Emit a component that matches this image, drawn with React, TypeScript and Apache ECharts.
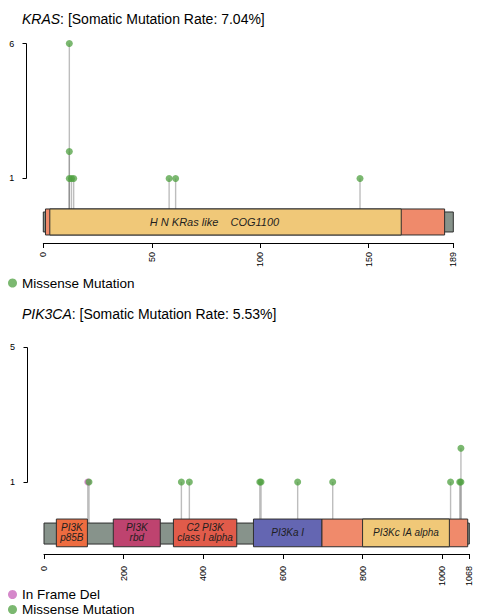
import { useEffect, useRef } from "react";
import * as echarts from "echarts";

// ---- KRAS ----
const KRAS_GENE = "KRAS";
const KRAS_RATE = "7.04%";
const KRAS_LENGTH = 189;
const KRAS_DOMAIN_NAMES = ["", "H N KRas like\u00A0\u00A0\u00A0 COG1100"];
const KRAS_DOMAIN_START = [1, 3];
const KRAS_DOMAIN_END = [185, 165];
const KRAS_MISSENSE_POS = [12, 12, 12, 13, 14, 58, 61, 146];
const KRAS_MISSENSE_COUNT = [6, 2, 1, 1, 1, 1, 1, 1];
const KRAS_X_TICKS = [0, 50, 100, 150, 189];
const KRAS_Y_TICKS = [1, 6];

// ---- PIK3CA ----
const PIK3CA_GENE = "PIK3CA";
const PIK3CA_RATE = "5.53%";
const PIK3CA_LENGTH = 1068;
const PIK3CA_DOMAIN_NAMES = [
  "PI3K\np85B",
  "PI3K\nrbd",
  "C2 PI3K\nclass I alpha",
  "PI3Ka I",
  "",
  "PI3Kc IA alpha",
];
const PIK3CA_DOMAIN_START = [31, 174, 325, 526, 698, 800];
const PIK3CA_DOMAIN_END = [109, 292, 484, 698, 1064, 1018];
const PIK3CA_INFRAME_POS = [110];
const PIK3CA_INFRAME_COUNT = [1];
const PIK3CA_MISSENSE_POS = [113, 345, 365, 542, 545, 637, 725, 1021, 1044, 1047, 1047];
const PIK3CA_MISSENSE_COUNT = [1, 1, 1, 1, 1, 1, 1, 1, 1, 1, 2];
const PIK3CA_X_TICKS = [0, 200, 400, 600, 800, 1000, 1068];
const PIK3CA_Y_TICKS = [1, 5];

// ---- styling ----
const FONT = "'Liberation Sans', Arial, Helvetica, sans-serif";
const BACKBONE = "#87938B";
const EDGE = "#2e2e2e";
const KRAS_FILLS = ["#EF8A6B", "#F0C878"];
const PIK3CA_FILLS = ["#EE6C40", "#BE436F", "#E15B4A", "#6466B2", "#F08A6B", "#F0C878"];
const MISSENSE_COLOR = "#4FA040";
const INFRAME_COLOR = "#C760B8";
const STEM_COLOR = "rgba(135,135,135,0.55)";

type Layout = {
  left: number;
  width: number;
  top: number;
  height: number;
  yMin: number;
  bb: [number, number];
  dom: [number, number];
  tickLabelMargin: number;
  domainFont: number;
  labelShift: number[];
};

const KRAS_LAYOUT: Layout = {
  left: 43.3,
  width: 410,
  top: 43.5,
  height: 199.5,
  yMin: -1.39,
  bb: [6.5, 26.5],
  dom: [3.5, 29.5],
  tickLabelMargin: 9,
  domainFont: 11,
  labelShift: [0, -11],
};

const PIK3CA_LAYOUT: Layout = {
  left: 44,
  width: 425.3,
  top: 347,
  height: 207,
  yMin: -1.133,
  bb: [7.3, 28.3],
  dom: [3.3, 31],
  tickLabelMargin: 12,
  domainFont: 10,
  labelShift: [0, 0, 0, 0, 0, 0],
};

// distance of the count axis from the start of the protein, and its tick length
const SPINE_GAP = 17;
const SPINE_TICK = 4;

function zip(a: number[], b: number[]) {
  return a.map((v, i) => [v, b[i]]);
}

function domainSeries(
  idx: number,
  length: number,
  starts: number[],
  ends: number[],
  names: string[],
  fills: string[],
  L: Layout
) {
  const data = [[0, length, 0], ...starts.map((s, j) => [s, ends[j], 0])];
  return {
    type: "custom",
    xAxisIndex: idx,
    yAxisIndex: idx,
    z: 3,
    silent: true,
    encode: { x: [0, 1], y: 2 },
    data,
    renderItem: (params: any, api: any) => {
      const i = params.dataIndex;
      const a = api.coord([api.value(0), 0]);
      const b = api.coord([api.value(1), 0]);
      const base = a[1];
      if (i === 0) {
        return {
          type: "rect",
          shape: { x: a[0], y: base + L.bb[0], width: b[0] - a[0], height: L.bb[1] - L.bb[0] },
          style: { fill: BACKBONE, stroke: EDGE, lineWidth: 1 },
        };
      }
      const j = i - 1;
      const y0 = base + L.dom[0];
      const h = L.dom[1] - L.dom[0];
      const children: any[] = [
        {
          type: "rect",
          shape: { x: a[0], y: y0, width: b[0] - a[0], height: h },
          style: { fill: fills[j], stroke: EDGE, lineWidth: 1 },
        },
      ];
      if (names[j]) {
        children.push({
          type: "text",
          style: {
            text: names[j],
            x: (a[0] + b[0]) / 2 + L.labelShift[j],
            y: y0 + h / 2,
            align: "center",
            verticalAlign: "middle",
            fontSize: L.domainFont,
            fontStyle: "italic",
            fontFamily: FONT,
            lineHeight: L.domainFont,
            fill: "#1e1e1e",
          },
        });
      }
      return { type: "group", children };
    },
  };
}

function stemSeries(idx: number, pts: number[][], L: Layout) {
  return {
    type: "custom",
    xAxisIndex: idx,
    yAxisIndex: idx,
    z: 2,
    silent: true,
    encode: { x: 0, y: 1 },
    data: pts,
    renderItem: (_params: any, api: any) => {
      const top = api.coord([api.value(0), api.value(1)]);
      const bot = api.coord([api.value(0), 0]);
      return {
        type: "line",
        shape: { x1: top[0], y1: top[1], x2: top[0], y2: bot[1] + L.bb[0] },
        style: { stroke: STEM_COLOR, lineWidth: 1.4 },
      };
    },
  };
}

// count axis: a vertical line from the lowest to the highest tick, with outward ticks
function spineSeries(idx: number, ticks: number[]) {
  return {
    type: "custom",
    xAxisIndex: idx,
    yAxisIndex: idx,
    silent: true,
    encode: { x: 0, y: 1 },
    data: ticks.map((t) => [0, t]),
    renderItem: (params: any, api: any) => {
      const p = api.coord([0, api.value(1)]);
      const x = Math.round(p[0] - SPINE_GAP) + 0.5;
      const y = Math.round(p[1]) + 0.5;
      const children: any[] = [
        {
          type: "line",
          shape: { x1: x - SPINE_TICK, y1: y, x2: x, y2: y },
          style: { stroke: "#000", lineWidth: 1 },
        },
      ];
      if (params.dataIndex === 0) {
        const hi = api.coord([0, ticks[ticks.length - 1]]);
        children.push({
          type: "line",
          shape: { x1: x, y1: y, x2: x, y2: Math.round(hi[1]) + 0.5 },
          style: { stroke: "#000", lineWidth: 1 },
        });
      }
      return { type: "group", children };
    },
  };
}

function pointSeries(idx: number, name: string, pts: number[][], color: string) {
  return {
    type: "scatter",
    name,
    xAxisIndex: idx,
    yAxisIndex: idx,
    z: 4,
    symbol: "circle",
    symbolSize: 7,
    silent: true,
    itemStyle: { color, opacity: 0.75 },
    data: pts,
  };
}

function xAxis(idx: number, max: number, ticks: number[], L: Layout) {
  return {
    type: "value",
    gridIndex: idx,
    min: 0,
    max,
    position: "bottom",
    splitLine: { show: false },
    axisLine: { show: true, onZero: false, lineStyle: { color: "#000", width: 1 } },
    axisTick: { show: true, length: 5, inside: false, customValues: ticks, lineStyle: { color: "#000" } },
    axisLabel: {
      customValues: ticks,
      formatter: (v: number) => String(v),
      rotate: 90,
      margin: L.tickLabelMargin,
      fontSize: 9,
      fontFamily: FONT,
      color: "#000",
    },
  };
}

function yAxis(idx: number, ticks: number[], L: Layout) {
  return {
    type: "value",
    gridIndex: idx,
    min: L.yMin,
    max: ticks[ticks.length - 1],
    position: "left",
    offset: SPINE_GAP,
    splitLine: { show: false },
    axisLine: { show: false },
    axisTick: { show: false },
    axisLabel: {
      customValues: ticks,
      formatter: (v: number) => String(v),
      margin: 12,
      fontSize: 9,
      fontFamily: FONT,
      color: "#000",
    },
  };
}

function titleOf(gene: string, rate: string, top: number) {
  return {
    left: 22,
    top,
    padding: 0,
    text: `{i|${gene}}: [Somatic Mutation Rate: ${rate}]`,
    textStyle: {
      fontSize: 14,
      fontWeight: "normal",
      fontFamily: FONT,
      color: "#000",
      rich: { i: { fontStyle: "italic", fontSize: 14, fontFamily: FONT, color: "#000" } },
    },
  };
}

function legendOf(name: string, top: number) {
  return {
    left: 8,
    top,
    padding: 0,
    orient: "vertical",
    itemWidth: 9,
    itemHeight: 9,
    icon: "circle",
    selectedMode: false,
    data: [name],
    textStyle: { fontSize: 13.5, lineHeight: 11, fontFamily: FONT, color: "#000" },
  };
}

function buildOption() {
  const krasMissense = zip(KRAS_MISSENSE_POS, KRAS_MISSENSE_COUNT);
  const pikInframe = zip(PIK3CA_INFRAME_POS, PIK3CA_INFRAME_COUNT);
  const pikMissense = zip(PIK3CA_MISSENSE_POS, PIK3CA_MISSENSE_COUNT);
  return {
    animation: false,
    backgroundColor: "#fff",
    title: [titleOf(KRAS_GENE, KRAS_RATE, 12), titleOf(PIK3CA_GENE, PIK3CA_RATE, 307)],
    legend: [
      legendOf("Missense Mutation", 276),
      legendOf("In Frame Del", 587.5),
      legendOf("Missense Mutation", 602.5),
    ],
    grid: [
      { left: KRAS_LAYOUT.left, width: KRAS_LAYOUT.width, top: KRAS_LAYOUT.top, height: KRAS_LAYOUT.height },
      { left: PIK3CA_LAYOUT.left, width: PIK3CA_LAYOUT.width, top: PIK3CA_LAYOUT.top, height: PIK3CA_LAYOUT.height },
    ],
    xAxis: [
      xAxis(0, KRAS_LENGTH, KRAS_X_TICKS, KRAS_LAYOUT),
      xAxis(1, PIK3CA_LENGTH, PIK3CA_X_TICKS, PIK3CA_LAYOUT),
    ],
    yAxis: [yAxis(0, KRAS_Y_TICKS, KRAS_LAYOUT), yAxis(1, PIK3CA_Y_TICKS, PIK3CA_LAYOUT)],
    series: [
      spineSeries(0, KRAS_Y_TICKS),
      stemSeries(0, krasMissense, KRAS_LAYOUT),
      domainSeries(0, KRAS_LENGTH, KRAS_DOMAIN_START, KRAS_DOMAIN_END, KRAS_DOMAIN_NAMES, KRAS_FILLS, KRAS_LAYOUT),
      pointSeries(0, "Missense Mutation", krasMissense, MISSENSE_COLOR),

      spineSeries(1, PIK3CA_Y_TICKS),
      stemSeries(1, [...pikInframe, ...pikMissense], PIK3CA_LAYOUT),
      domainSeries(1, PIK3CA_LENGTH, PIK3CA_DOMAIN_START, PIK3CA_DOMAIN_END, PIK3CA_DOMAIN_NAMES, PIK3CA_FILLS, PIK3CA_LAYOUT),
      pointSeries(1, "In Frame Del", pikInframe, INFRAME_COLOR),
      pointSeries(1, "Missense Mutation", pikMissense, MISSENSE_COLOR),
    ],
  };
}

export default function App() {
  const ref = useRef<HTMLDivElement>(null);
  useEffect(() => {
    document.body.style.margin = "0";
    const chart = echarts.init(ref.current!, null, { renderer: "svg" });
    chart.setOption(buildOption() as any);
    return () => chart.dispose();
  }, []);
  return (
    <div
      ref={ref}
      style={{ position: "fixed", left: 0, top: 0, width: 477, height: 616, background: "#fff" }}
    />
  );
}
